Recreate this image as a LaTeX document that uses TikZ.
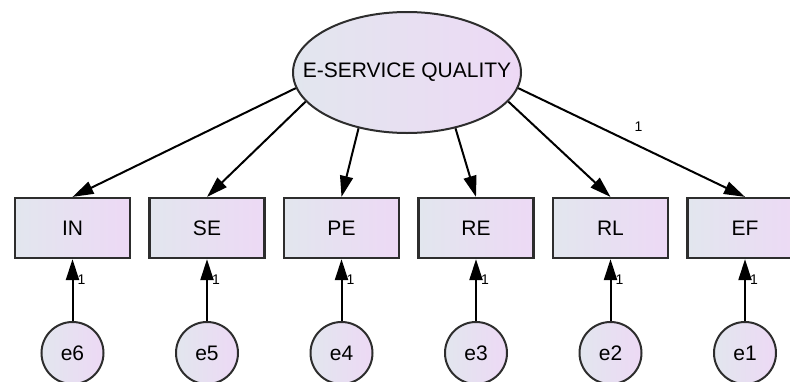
\documentclass[tikz,border=0pt]{standalone}
\usepackage{fontspec}
\setmainfont{Liberation Sans}
\usetikzlibrary{shapes.geometric,arrows.meta}
\definecolor{fillleft}{RGB}{226,230,238}
\definecolor{fillright}{RGB}{237,217,245}
\definecolor{rim}{RGB}{45,45,45}

\begin{document}
\begin{tikzpicture}[x=1pt, y=-1pt,
		every node/.style = {font=\fontsize{21}{25}\selectfont, text=black},
		latent/.style = {ellipse, draw=rim, line width=2pt, left color=fillleft, right color=fillright, minimum width=228pt, minimum height=121pt, inner xsep=-25pt, inner ysep=0pt},
		observed/.style = {rectangle, draw=rim, line width=2.2pt, left color=fillleft, right color=fillright, minimum width=115pt, minimum height=60pt, inner sep=0pt},
		residual/.style = {circle, draw=rim, line width=2pt, left color=fillleft, right color=fillright, minimum size=62pt, inner sep=0pt},
		path/.style = {-{Triangle[length=21pt,width=13pt]}, line width=2pt},
		weight/.style = {font=\fontsize{14}{16}\selectfont, inner sep=2pt}]
	\useasboundingbox (0,0) rectangle (790,381);
	\node[latent] (esq) at (407,72.5) {E-SERVICE QUALITY};
	\foreach \name/\x/\err/\ang in {IN/72.5/e6/188, SE/207/e5/196, PE/341.5/e4/229.6, RE/476/e3/311.6, RL/610.5/e2/344, EF/745/e1/352} {
		\node[observed] (\name) at (\x,228) {\name};
		\node[residual] (\err) at (\x,353) {\err};
		\draw[path] (esq.\ang) -- (\name.north);
		\draw[path] (\err) -- (\name) node[weight, pos=0.67, right=2pt] {1};
	}
	\path (esq.352) -- (EF.north) node[weight, pos=0.53, above=12pt] {1};
\end{tikzpicture}
\end{document}
